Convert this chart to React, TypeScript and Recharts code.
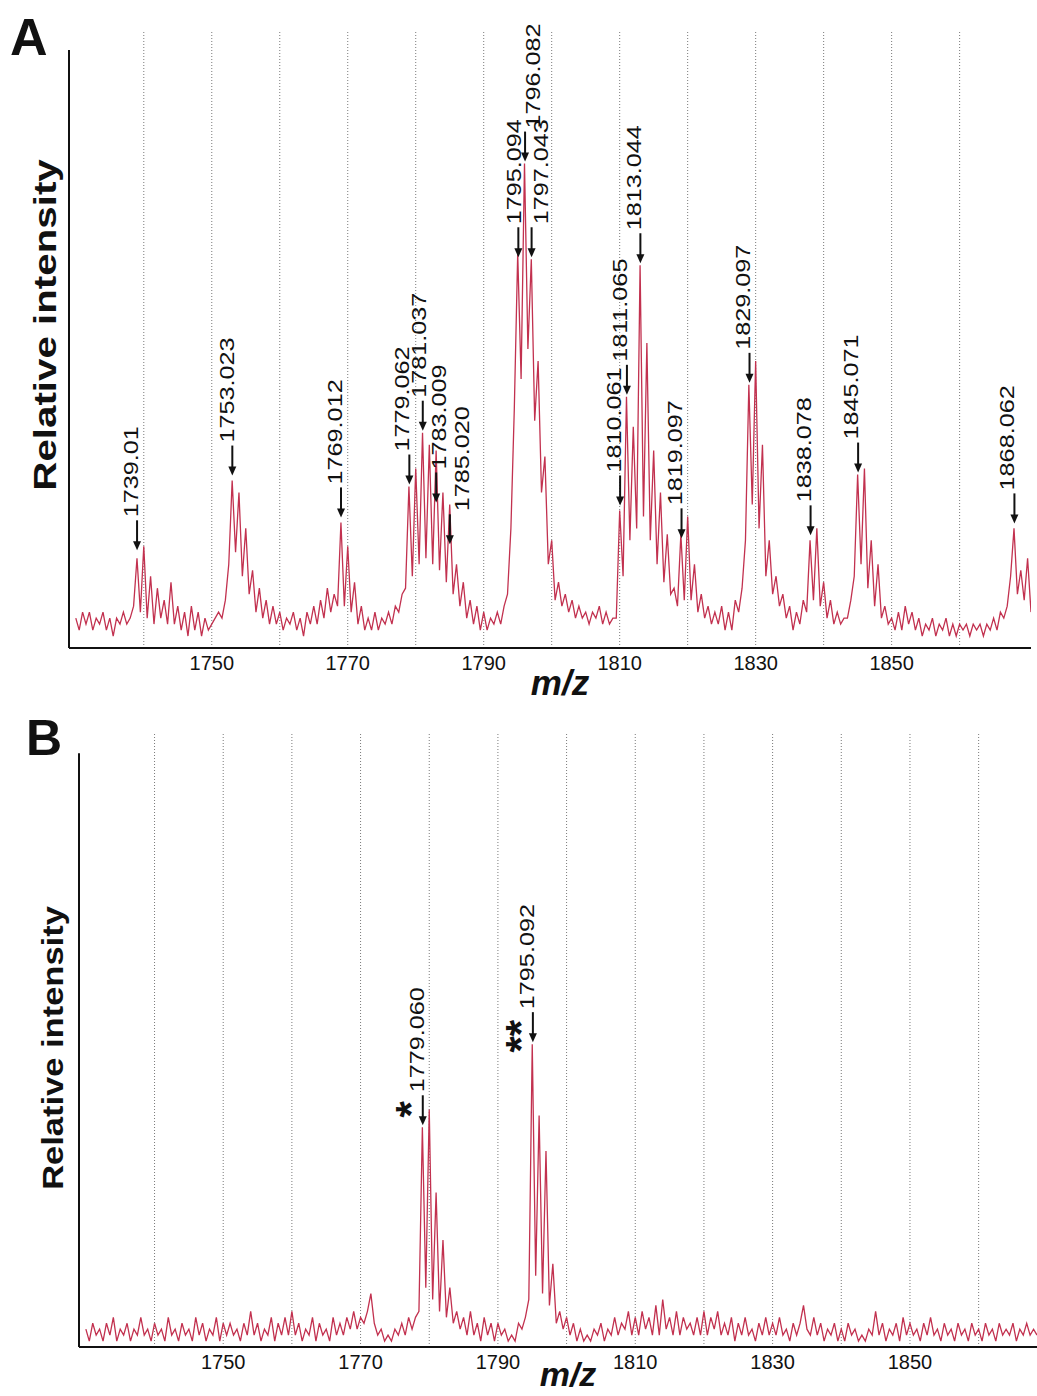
import React from 'react';
import { LineChart, Line, XAxis, YAxis, ReferenceLine, ReferenceDot } from 'recharts';

// ---------- data ----------
const MZ_STEP = 0.5;
const MZ_START_A = 1730;
// panel A intensities, one row per 10 m/z units (1730, 1740, ...), sampled every 0.5
const intensityA = [
  5, 3, 6, 4, 6, 3, 5, 4, 6, 3, 5, 2, 5, 4, 6, 4, 5, 7, 15, 6,
  17, 5, 12, 4, 10, 5, 8, 4, 11, 4, 7, 3, 6, 2, 7, 3, 6, 2, 5, 3,
  4, 5, 6, 5, 8, 14, 28, 16, 26, 12, 20, 9, 13, 6, 10, 5, 8, 4, 7, 4,
  6, 3, 5, 4, 6, 3, 5, 2, 6, 4, 7, 4, 8, 5, 10, 6, 9, 7, 21, 7,
  17, 6, 11, 4, 7, 3, 5, 3, 6, 3, 5, 4, 6, 4, 7, 6, 9, 10, 27, 12,
  30, 14, 36, 15, 34, 14, 33, 13, 26, 11, 24, 9, 14, 7, 11, 5, 8, 4, 7, 3,
  6, 3, 5, 4, 6, 4, 7, 9, 20, 40, 66, 45, 81, 50, 65, 38, 48, 26, 32, 14,
  18, 8, 11, 7, 9, 6, 8, 5, 7, 5, 6, 4, 6, 5, 7, 4, 6, 4, 5, 5,
  23, 12, 42, 18, 37, 20, 64, 22, 51, 18, 33, 14, 26, 11, 19, 9, 10, 7, 19, 8,
  22, 8, 14, 6, 9, 5, 7, 4, 6, 4, 7, 3, 6, 3, 8, 6, 10, 18, 44, 24,
  48, 20, 34, 12, 18, 9, 12, 7, 9, 5, 7, 3, 6, 4, 8, 6, 18, 8, 20, 7,
  11, 5, 8, 4, 6, 4, 5, 5, 8, 12, 29, 14, 30, 10, 18, 7, 14, 5, 7, 4,
  5, 3, 6, 3, 7, 4, 6, 3, 5, 2, 4, 3, 5, 2, 4, 3, 5, 2, 4, 2,
  4, 3, 4, 2, 4, 3, 4, 2, 4, 3, 5, 3, 6, 5, 7, 12, 20, 9, 13, 8,
  15, 6,
];

const MZ_START_B = 1730;
const intensityB = [
  3, 1, 4, 2, 3, 1, 4, 2, 5, 1, 3, 2, 4, 1, 3, 2, 5, 2, 3, 1,
  4, 2, 3, 1, 5, 2, 3, 1, 4, 2, 3, 1, 5, 2, 4, 1, 3, 2, 5, 1,
  4, 2, 4, 2, 3, 1, 4, 2, 6, 2, 4, 1, 3, 2, 5, 1, 4, 2, 5, 2,
  6, 2, 4, 1, 3, 2, 5, 1, 4, 2, 3, 1, 5, 2, 4, 2, 5, 3, 6, 3,
  5, 4, 6, 9, 4, 2, 3, 1, 2, 1, 3, 2, 4, 2, 5, 3, 5, 6, 37, 10,
  40, 8, 26, 6, 18, 5, 10, 4, 6, 3, 5, 2, 6, 2, 4, 1, 5, 2, 4, 1,
  4, 2, 3, 1, 2, 1, 4, 3, 5, 8, 51, 12, 39, 9, 33, 7, 14, 4, 6, 3,
  5, 2, 4, 1, 3, 1, 2, 1, 3, 2, 4, 1, 3, 2, 5, 2, 4, 3, 6, 2,
  5, 2, 6, 3, 5, 2, 7, 2, 8, 3, 5, 2, 6, 2, 5, 3, 4, 2, 5, 2,
  6, 2, 5, 3, 6, 2, 4, 2, 5, 1, 4, 2, 5, 2, 3, 1, 4, 2, 5, 2,
  4, 2, 5, 2, 3, 1, 4, 2, 4, 7, 3, 2, 5, 2, 4, 1, 3, 2, 4, 1,
  3, 1, 4, 2, 3, 1, 2, 1, 3, 2, 6, 2, 4, 1, 3, 2, 4, 1, 5, 2,
  4, 2, 3, 1, 4, 2, 5, 2, 3, 1, 4, 2, 3, 1, 4, 2, 3, 1, 4, 2,
  3, 1, 4, 2, 3, 1, 4, 2, 3, 2, 4, 1, 3, 2, 4, 2, 3, 2,
];

const xTicks = [1750, 1770, 1790, 1810, 1830, 1850];
const gridMz = [1740, 1750, 1760, 1770, 1780, 1790, 1800, 1810, 1820, 1830, 1840, 1850, 1860];

// peak annotations
const annMzA = [1739.01, 1753.023, 1769.012, 1779.062, 1781.037, 1783.009, 1785.02, 1795.094, 1796.082, 1797.043, 1810.061, 1811.065, 1813.044, 1819.097, 1829.097, 1838.078, 1845.071, 1868.062];
const annTextA = ['1739.01', '1753.023', '1769.012', '1779.062', '1781.037', '1783.009', '1785.020', '1795.094', '1796.082', '1797.043', '1810.061', '1811.065', '1813.044', '1819.097', '1829.097', '1838.078', '1845.071', '1868.062'];
const annTipA = [16, 28.5, 21.5, 27, 36, 24, 17, 65, 81, 65, 23.5, 42, 64, 18, 44, 18.5, 29, 20.5];

const annMzB = [1779.06, 1795.092];
const annTextB = ['1779.060', '1795.092'];
const annTipB = [37, 51];
const annStarB = ['*', '**'];

// ---------- layout (not data) ----------
const annDxA = [-6, -6, -6, -8, -4, 3, 12, -5, 8, 9, -6, -7, -7, -7, -7, -7, -7, -8];
const FONT = 'Liberation Sans, Arial, Helvetica, sans-serif';
const LINE_COLOR = '#c2314f';
const INK = '#111';

const dataA = intensityA.map((v, i) => ({ mz: MZ_START_A + i * MZ_STEP, v }));
const dataB = intensityB.map((v, i) => ({ mz: MZ_START_B + i * MZ_STEP, v }));

type AnnProps = { cx?: number; cy?: number; text: string; dx: number; len?: number; star?: string };

const Ann = ({ cx = 0, cy = 0, text, dx, len = 30, star }: AnnProps) => {
  const tipY = cy - 2;
  const top = tipY - len;
  return (
    <g>
      <line x1={cx} y1={top} x2={cx} y2={tipY - 7} stroke={INK} strokeWidth={2} />
      <path d={`M${cx - 4},${tipY - 9} L${cx + 4},${tipY - 9} L${cx},${tipY} Z`} fill={INK} />
      <text
        transform={`translate(${cx + dx},${top - 3}) rotate(-90) scale(1.2,1)`}
        fontSize={21}
        fontFamily={FONT}
        dominantBaseline="central"
        fill={INK}
      >
        {text}
      </text>
      {star ? (
        <text
          transform={`translate(${cx - 12},${tipY - (star.length > 1 ? 6 : 16)}) rotate(-90)`}
          fontSize={42}
          fontWeight="bold"
          fontFamily={FONT}
          textAnchor="middle"
          dominantBaseline="central"
          fill={INK}
        >
          {star}
        </text>
      ) : null}
    </g>
  );
};

const Panel = ({
  data,
  domainX,
  domainY,
  margin,
  height,
  axisTop,
  ann,
}: {
  data: { mz: number; v: number }[];
  domainX: [number, number];
  domainY: [number, number];
  margin: { top: number; right: number; left: number; bottom: number };
  height: number;
  axisTop: number;
  ann: React.ReactNode[];
}) => (
  <LineChart width={1037} height={height} data={data} margin={margin}>
    <XAxis
      type="number"
      dataKey="mz"
      domain={domainX}
      ticks={xTicks}
      interval={0}
      allowDataOverflow
      tickLine={false}
      axisLine={{ stroke: INK, strokeWidth: 2 }}
      tick={{ fontSize: 20, fill: INK, fontFamily: FONT }}
      height={30}
    />
    <YAxis type="number" domain={domainY} hide allowDataOverflow />
    {gridMz.map((g) => (
      <ReferenceLine key={g} x={g} stroke="#7a7a7a" strokeWidth={1} strokeDasharray="1 2" />
    ))}
    <Line
      type="linear"
      dataKey="v"
      stroke={LINE_COLOR}
      strokeWidth={1.3}
      dot={false}
      isAnimationActive={false}
    />
    <ReferenceLine
      segment={[
        { x: domainX[0], y: 0 },
        { x: domainX[0], y: axisTop },
      ]}
      stroke={INK}
      strokeWidth={2}
    />
    {ann}
  </LineChart>
);

const annotationsA = annMzA.map((mz, i) => (
  <ReferenceDot
    key={annTextA[i]}
    x={mz}
    y={annTipA[i]}
    r={0}
    shape={(p: any) => <Ann cx={p.cx} cy={p.cy} text={annTextA[i]} dx={annDxA[i]} />}
  />
));

const annotationsB = annMzB.map((mz, i) => (
  <ReferenceDot
    key={annTextB[i]}
    x={mz}
    y={annTipB[i]}
    r={0}
    shape={(p: any) => <Ann cx={p.cx} cy={p.cy} text={annTextB[i]} dx={-6} star={annStarB[i]} />}
  />
));

export default function App() {
  return (
    <div style={{ position: 'absolute', left: 0, top: 0, width: 1037, height: 1396, background: '#fff' }}>
      <div style={{ position: 'absolute', left: 0, top: 0 }}>
        <Panel
          data={dataA}
          domainX={[1729, 1870.5]}
          domainY={[0, 103]}
          margin={{ top: 32, right: 6, left: 69, bottom: 22 }}
          height={700}
          axisTop={100}
          ann={annotationsA}
        />
      </div>
      <div style={{ position: 'absolute', left: 0, top: 700 }}>
        <Panel
          data={dataB}
          domainX={[1729, 1868.5]}
          domainY={[0, 103.4]}
          margin={{ top: 33, right: 0, left: 79, bottom: 19 }}
          height={696}
          axisTop={100}
          ann={annotationsB}
        />
      </div>
      <svg
        width={1037}
        height={1396}
        style={{ position: 'absolute', left: 0, top: 0, pointerEvents: 'none' }}
      >
        <text x={10} y={55} fontSize={52} fontWeight="bold" fontFamily={FONT} fill={INK}>A</text>
        <text x={26} y={755} fontSize={50} fontWeight="bold" fontFamily={FONT} fill={INK}>B</text>
        <text
          transform="translate(45,325) rotate(-90) scale(1.26,1)"
          fontSize={32}
          fontWeight="bold"
          fontFamily={FONT}
          textAnchor="middle"
          dominantBaseline="central"
          fill={INK}
        >
          Relative intensity
        </text>
        <text
          transform="translate(53,1048) rotate(-90) scale(1.15,1)"
          fontSize={30}
          fontWeight="bold"
          fontFamily={FONT}
          textAnchor="middle"
          dominantBaseline="central"
          fill={INK}
        >
          Relative intensity
        </text>
        <text x={560} y={695} fontSize={35} fontWeight="bold" fontStyle="italic" fontFamily={FONT} textAnchor="middle" fill={INK}>
          m/z
        </text>
        <text x={568} y={1386} fontSize={34} fontWeight="bold" fontStyle="italic" fontFamily={FONT} textAnchor="middle" fill={INK}>
          m/z
        </text>
      </svg>
    </div>
  );
}
